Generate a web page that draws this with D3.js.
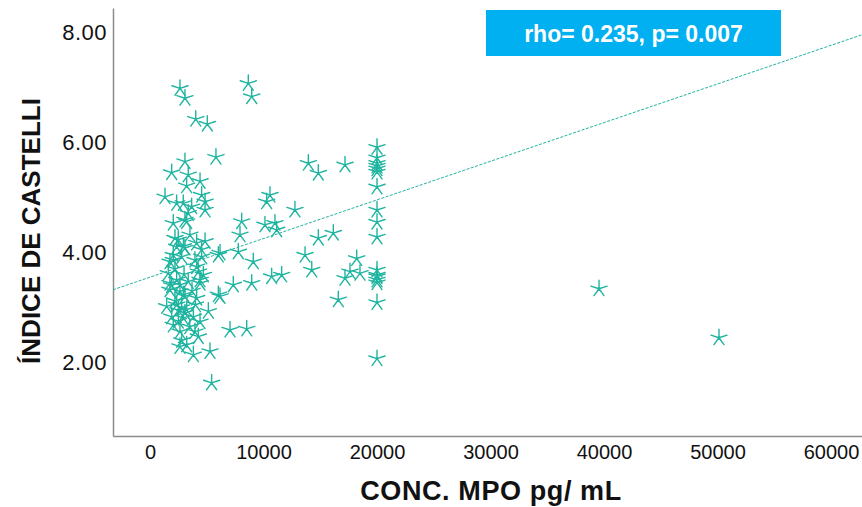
<!DOCTYPE html>
<html>
<head>
<meta charset="utf-8">
<script src="https://cdn.jsdelivr.net/npm/d3@7/dist/d3.min.js"></script>
<style>
  html, body { margin: 0; padding: 0; background: #fff; }
  svg { display: block; font-family: "Liberation Sans", Arial, sans-serif; }
</style>
</head>
<body>
<svg id="chart" width="862" height="507"></svg>
<script>
// MPO concentration (pg/mL) vs Castelli index
const mpo = [
  20000,20000,20000,20000,20000,20000,20000,20000,20000,20000,20000,20000,20000,20000,20000,20000,20000,
  13950,14830,17180,10570,10280,12770,8080,7930,10130,11010,11160,14830,16150,6170,7780,9100,13660,14250,
  18210,17620,17180,18500,10720,11600,7340,8960,6170,16590,7050,8520,39560,50130,
  2640,3080,8660,8960,4030,5050,5810,3080,1910,3370,4410,3230,1320,2350,2930,4550,4850,3670,4850,3370,
  2050,3230,2490,3520,4850,2350,3080,4110,4550,2050,2790,1760,3960,6020,1610,4260,4700,2350,3370,4410,
  1760,2640,3080,4110,6020,1470,2350,3230,5140,1910,2940,3820,2050,4410,2640,3960,4260,2640,3820,5290,5430,
  3080,2200,2940,4550,4110,2050,2640,1760,4410,2940,
  2200,2790,3080,2500,3500,2790,1900,3000,2200,3700,2500,4000,3230
];
const castelli = [
  5.91,5.72,5.62,5.57,5.52,5.46,5.19,4.77,4.55,4.28,3.68,3.59,3.56,3.50,3.45,3.09,2.07,
  5.62,5.44,5.59,5.04,4.92,4.77,4.56,4.32,4.50,4.53,4.41,4.26,4.35,3.99,4.01,3.83,3.95,3.68,
  3.89,3.65,3.53,3.62,3.56,3.59,3.41,3.44,3.20,3.14,2.59,2.61,3.34,2.45,
  6.98,6.80,7.07,6.83,6.42,6.33,5.73,5.65,5.45,5.41,5.29,5.21,5.01,4.89,4.89,5.04,4.92,4.83,4.77,4.71,
  4.53,4.56,4.23,4.32,4.20,4.10,4.08,4.17,4.05,3.95,3.92,3.83,3.86,3.95,3.62,3.65,3.59,3.50,3.47,3.50,
  3.32,3.29,3.20,3.17,3.23,3.02,3.05,2.96,2.93,2.83,2.81,2.83,2.68,2.74,2.56,2.56,2.47,2.29,2.14,2.20,1.63,
  4.59,4.26,4.11,3.92,3.74,3.86,3.41,3.44,3.44,3.23,
  3.12,3.00,2.90,2.75,2.65,2.40,3.40,3.60,3.70,3.30,2.95,3.05,2.32
];
const xTicks = [0, 10000, 20000, 30000, 40000, 50000, 60000];
const yTicks = [2, 4, 6, 8];
// fitted linear trend
const fitIntercept = 3.55;
const fitSlope = 0.0000702;
const statLabel = "rho= 0.235, p= 0.007";
const xTitle = "CONC. MPO pg/ mL";
const yTitle = "ÍNDICE DE CASTELLI";

const teal = "#1fb4a0";
const svg = d3.select("#chart");

const x = d3.scaleLinear().domain([-3260, 62730]).range([113, 862]);
const y = d3.scaleLinear().domain([0.665, 8.44]).range([436, 8]);

// axes: labels only, no tick marks
const xAxis = d3.axisBottom(x).tickValues(xTicks).tickFormat(d3.format("d")).tickSize(0).tickPadding(9);
const gx = svg.append("g").attr("transform", `translate(0,${y.range()[0]})`).call(xAxis);
gx.select(".domain").attr("stroke", "#8c8c8c").attr("stroke-width", 1.5);
gx.selectAll("text").attr("font-size", 20).attr("fill", "#111").attr("font-family", "Liberation Sans, Arial, sans-serif");

const yAxis = d3.axisLeft(y).tickValues(yTicks).tickFormat(d3.format(".2f")).tickSize(0).tickPadding(6);
const gy = svg.append("g").attr("transform", `translate(${x.range()[0]},0)`).call(yAxis);
gy.select(".domain").attr("stroke", "#8c8c8c").attr("stroke-width", 1.5);
gy.selectAll("text").attr("font-size", 22).attr("letter-spacing", 0.5).attr("fill", "#111").attr("font-family", "Liberation Sans, Arial, sans-serif");

// trend line across the full x range
const [x0, x1] = x.domain();
svg.append("line")
  .attr("x1", x(x0)).attr("y1", y(fitIntercept + fitSlope * x0))
  .attr("x2", x(x1)).attr("y2", y(fitIntercept + fitSlope * x1))
  .attr("stroke", teal).attr("stroke-width", 1).attr("stroke-dasharray", "3,1.5");

// five-armed asterisk marker
const r = 8.5;
let starPath = "";
for (let k = 0; k < 5; k++) {
  const a = -Math.PI / 2 + k * 2 * Math.PI / 5;
  starPath += `M0,0L${(r * Math.cos(a)).toFixed(2)},${(r * Math.sin(a)).toFixed(2)}`;
}
svg.append("g").selectAll("path")
  .data(d3.zip(mpo, castelli))
  .join("path")
  .attr("d", starPath)
  .attr("transform", d => `translate(${x(d[0])},${y(d[1])})`)
  .attr("fill", "none")
  .attr("stroke", teal)
  .attr("stroke-width", 1.4)
  .attr("stroke-linecap", "round");

// statistic box
svg.append("rect").attr("x", 486).attr("y", 10).attr("width", 295).attr("height", 46).attr("fill", "#00b0f0");
svg.append("text").attr("x", 633.5).attr("y", 41.5).attr("text-anchor", "middle")
  .attr("font-size", 23).attr("font-weight", "bold").attr("fill", "#fff").text(statLabel);

// axis titles
svg.append("text").attr("x", 491).attr("y", 500).attr("text-anchor", "middle")
  .attr("font-size", 27).attr("font-weight", "bold").attr("letter-spacing", 0.6).attr("fill", "#111").text(xTitle);
svg.append("text").attr("transform", "translate(40,231) rotate(-90)").attr("text-anchor", "middle")
  .attr("font-size", 26).attr("font-weight", "bold").attr("fill", "#111").text(yTitle);
</script>
</body>
</html>
